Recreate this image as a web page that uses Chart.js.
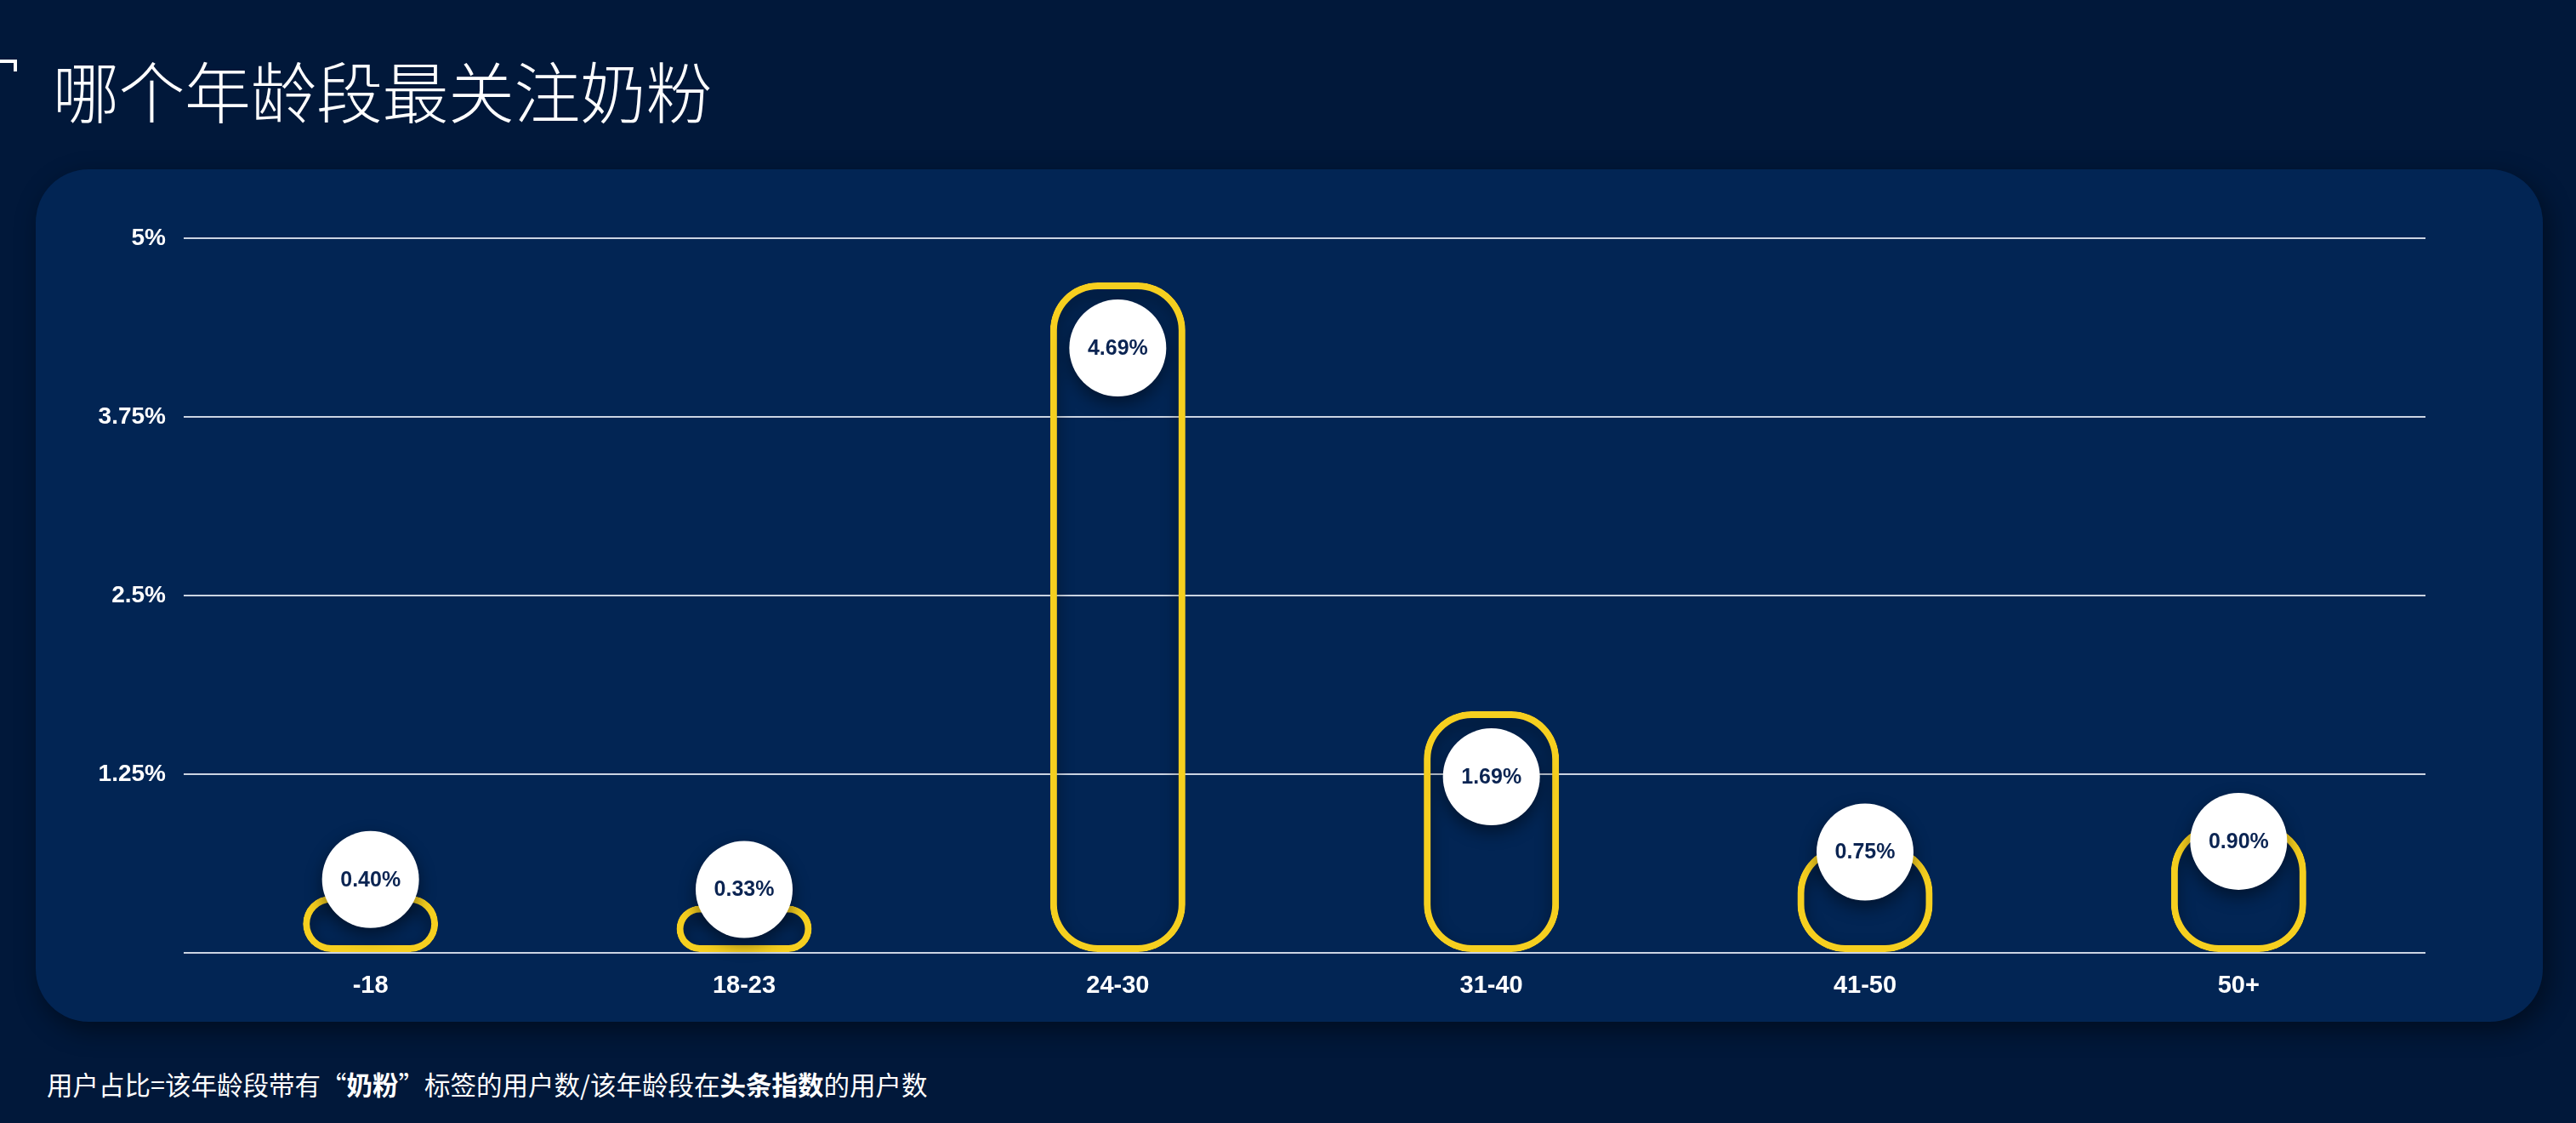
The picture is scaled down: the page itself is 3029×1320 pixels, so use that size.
<!DOCTYPE html>
<html>
<head>
<meta charset="utf-8">
<script src="https://cdn.jsdelivr.net/npm/chart.js@4/dist/chart.umd.min.js"></script>
<style>
  html, body { margin: 0; padding: 0; }
  body {
    width: 3029px; height: 1320px; overflow: hidden; position: relative;
    background: #01183a;
    font-family: "Noto Sans CJK SC", "Noto Sans", sans-serif;
  }
  .mark {
    position: absolute; left: 0; top: 70px; width: 16px; height: 10px;
    border-top: 4px solid #fff; border-right: 4px solid #fff;
  }
  .title {
    position: absolute; left: 62px; top: 66px;
    color: #fff; font-size: 78px; font-weight: 300; line-height: 1; letter-spacing: -0.5px;
  }
  .panel {
    position: absolute; left: 42px; top: 199px; width: 2948px; height: 1002px;
    background: #022554; border-radius: 62px;
    box-shadow: 6px 10px 30px rgba(0, 0, 0, 0.45);
  }
  .note {
    position: absolute; left: 55px; top: 1259px;
    color: #fff; font-size: 30.5px; line-height: 1;
  }
  .note b { font-weight: 700; }
  canvas { position: absolute; left: 0; top: 0; }
</style>
</head>
<body>
<div class="mark"></div>
<div class="title">哪个年龄段最关注奶粉</div>
<div class="panel"></div>
<div class="note">用户占比=该年龄段带有“<b>奶粉</b>”标签的用户数/该年龄段在<b>头条指数</b>的用户数</div>
<canvas id="myChart" width="3029" height="1320"></canvas>
<script>
// age groups and share of users (%) tagged with 奶粉
var ageGroups = ['-18', '18-23', '24-30', '31-40', '41-50', '50+'];
var userShare = [0.40, 0.33, 4.69, 1.69, 0.75, 0.90];
var yMax = 5;
var yStep = 1.25;

Chart.defaults.font.family = "'Liberation Sans', Arial, sans-serif";

// shadow under bars + white bubble with the value
var bubblePlugin = {
    id: 'bubbles',
    beforeDatasetsDraw: function(chart) {
        var ctx = chart.ctx;
        ctx.save();
        ctx.shadowColor = 'rgba(0, 0, 0, 0.5)';
        ctx.shadowBlur = 18;
        ctx.shadowOffsetY = 8;
    },
    afterDatasetsDraw: function(chart) {
        var ctx = chart.ctx;
        ctx.restore();
        var meta = chart.getDatasetMeta(0);
        meta.data.forEach(function(bar, i) {
            var h = bar.base - bar.y;
            var off = Math.max(-19, Math.min(77, (h - 110) * 0.5));
            var cx = bar.x, cy = bar.y + off;
            ctx.save();
            ctx.shadowColor = 'rgba(0, 0, 0, 0.45)';
            ctx.shadowBlur = 20;
            ctx.shadowOffsetY = 8;
            ctx.beginPath();
            ctx.arc(cx, cy, 57, 0, Math.PI * 2);
            ctx.fillStyle = '#ffffff';
            ctx.fill();
            ctx.restore();
            ctx.save();
            ctx.fillStyle = '#0b2452';
            ctx.font = "bold 25px 'Liberation Sans', Arial, sans-serif";
            ctx.textAlign = 'center';
            ctx.textBaseline = 'middle';
            ctx.fillText(userShare[i].toFixed(2) + '%', cx, cy + 1);
            ctx.restore();
        });
    }
};

var ctx = document.getElementById('myChart').getContext('2d');
var myChart = new Chart(ctx, {
    type: 'bar',
    data: {
        labels: ageGroups,
        datasets: [{
            data: userShare,
            backgroundColor: 'rgba(0, 0, 0, 0)',
            borderColor: '#f6cf1f',
            borderWidth: 8,
            borderSkipped: false,
            borderRadius: 56,
            barPercentage: 0.362,
            categoryPercentage: 1
        }]
    },
    options: {
        responsive: false,
        animation: false,
        devicePixelRatio: 1,
        layout: { padding: { left: 60, right: 177, top: 280, bottom: 100 } },
        plugins: { legend: { display: false }, tooltip: { enabled: false } },
        scales: {
            x: {
                grid: { display: false },
                border: { display: false },
                ticks: { color: '#ffffff', padding: 14, font: { size: 29, weight: 'bold' } },
                afterFit: function(scale) { scale.height = 100; }
            },
            y: {
                min: 0,
                max: yMax,
                border: { display: false },
                grid: { color: 'rgba(225, 232, 242, 0.9)', lineWidth: 2, drawTicks: false },
                ticks: {
                    stepSize: yStep,
                    color: '#ffffff',
                    padding: 21,
                    font: { size: 28, weight: 'bold' },
                    callback: function(v) { return v === 0 ? '' : v + '%'; }
                },
                afterFit: function(scale) { scale.width = 156; }
            }
        }
    },
    plugins: [bubblePlugin]
});
</script>
</body>
</html>
